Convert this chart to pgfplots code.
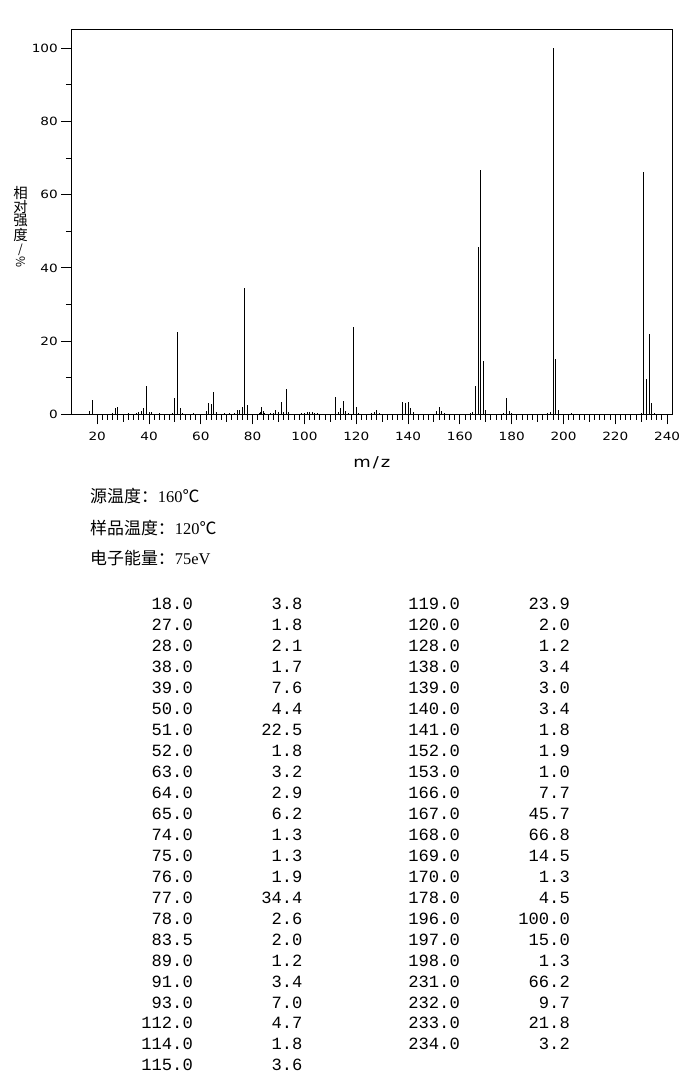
\documentclass[border=0pt]{standalone}
\usepackage{fontspec}
\usepackage{graphicx}
\usepackage{pgfplots}
\pgfplotsset{compat=1.18}
\setmainfont{Liberation Serif}
\newfontfamily\cjk{Noto Sans CJK SC}
\newfontfamily\tickfont[FakeStretch=1.2]{DejaVu Sans}
\newfontfamily\monofont{Liberation Mono}

\pgfplotstableread{
m i
17 0.9
18 3.8
26 0.4
27 1.8
28 2.1
32 0.4
35 0.4
36 0.6
37 0.8
38 1.7
39 7.6
40 0.5
41 0.5
44 0.3
49 0.4
50 4.4
51 22.5
52 1.8
53 0.3
57 0.4
62 0.9
63 3.2
64 2.9
65 6.2
66 0.7
69 0.4
71 0.4
73 0.4
74 1.3
75 1.3
76 1.9
77 34.4
78 2.6
82.5 0.4
83 0.6
83.5 2.0
84 0.8
84.5 0.4
87 0.4
88 0.4
89 1.2
90 0.7
91 3.4
92 0.7
93 7.0
94 0.5
99 0.4
100 0.4
101 0.5
102 0.5
103 0.5
104 0.3
105 0.3
112 4.7
113 0.5
114 1.8
115 3.6
116 0.8
117 0.4
119 23.9
120 2.0
121 0.4
126 0.4
127 0.6
128 1.2
129 0.4
138 3.4
139 3.0
140 3.4
141 1.8
142 0.5
151 0.8
152 1.9
153 1.0
154 0.4
164 0.4
165 0.5
166 7.7
167 45.7
168 66.8
169 14.5
170 1.3
177 0.4
178 4.5
179 0.8
180 0.4
194 0.4
195 0.6
196 100.0
197 15.0
198 1.3
203 0.4
230 0.4
231 66.2
232 9.7
233 21.8
234 3.2
235 0.4
}\spectrum

\begin{document}
\begin{tikzpicture}[x=1bp,y=1bp]
\useasboundingbox (0,0) rectangle (696,1077);
\begin{axis}[
  at={(71.3bp,662.7bp)}, anchor=south west,
  scale only axis, width=601bp, height=384.3bp,
  xmin=10, xmax=242, ymin=0, ymax=105,
  xtick={20,40,...,240}, minor x tick num=9,
  ytick={0,20,...,100}, minor y tick num=1,
  extra x ticks={30,50,...,230}, extra x tick labels={},
  extra x tick style={major tick length=7.7bp},
  tick align=outside,
  xtick pos=bottom, ytick pos=left,
  major tick length=10bp, minor tick length=5.5bp,
  tick style={black, line width=1bp},
  axis line style={black, line width=1bp},
  /pgf/number format/assume math mode=true,
  ticklabel style={font=\tickfont\fontsize{11.4}{12}\selectfont, inner sep=0pt},
  xticklabel shift=7.3bp,
  yticklabel shift=3.3bp,
]
\addplot[ycomb, black, line width=1bp, mark=none] table[x=m, y=i] {\spectrum};
\end{axis}

% axis labels
\node[font=\tickfont\fontsize{15}{16}\selectfont] at (371.8,614) {m\hspace{2bp}/\hspace{2bp}z};
\begin{scope}[every node/.style={inner sep=0pt, font=\cjk\fontsize{14.5}{14.5}\selectfont}]
  \node at (20.5,1077-192.7) {相};
  \node at (20.5,1077-206.7) {对};
  \node at (20.5,1077-220.5) {强};
  \node at (20.5,1077-234.7) {度};
  \node[font=\cjk\fontsize{12}{12}\selectfont] at (20.5,1077-249.5) {/};
  \node[rotate=-90, font=\cjk\fontsize{12}{12}\selectfont] at (20.5,1077-262.5) {\%};
\end{scope}

% info lines
\node[anchor=west, inner sep=0pt] at (90,1077-496)
  {\cjk\fontsize{17}{17}\selectfont 源温度：{\rmfamily\fontsize{16.5}{16}\selectfont 160}℃};
\node[anchor=west, inner sep=0pt] at (90,1077-528)
  {\cjk\fontsize{17}{17}\selectfont 样品温度：{\rmfamily\fontsize{16.5}{16}\selectfont 120}℃};
\node[anchor=west, inner sep=0pt] at (90,1077-558)
  {\cjk\fontsize{17}{17}\selectfont 电子能量：{\rmfamily\fontsize{16.5}{16}\selectfont 75eV}};

% peak table
\foreach \a/\b [count=\k from 0] in {18.0/3.8, 27.0/1.8, 28.0/2.1, 38.0/1.7, 39.0/7.6, 50.0/4.4, 51.0/22.5, 52.0/1.8, 63.0/3.2, 64.0/2.9, 65.0/6.2, 74.0/1.3, 75.0/1.3, 76.0/1.9, 77.0/34.4, 78.0/2.6, 83.5/2.0, 89.0/1.2, 91.0/3.4, 93.0/7.0, 112.0/4.7, 114.0/1.8, 115.0/3.6} {
  \node[anchor=base east, inner sep=0pt, font=\monofont\fontsize{17.2}{17}\selectfont] at (193,1077-610-20.95*\k) {\a};
  \node[anchor=base east, inner sep=0pt, font=\monofont\fontsize{17.2}{17}\selectfont] at (302.7,1077-610-20.95*\k) {\b};
}
\foreach \a/\b [count=\k from 0] in {119.0/23.9, 120.0/2.0, 128.0/1.2, 138.0/3.4, 139.0/3.0, 140.0/3.4, 141.0/1.8, 152.0/1.9, 153.0/1.0, 166.0/7.7, 167.0/45.7, 168.0/66.8, 169.0/14.5, 170.0/1.3, 178.0/4.5, 196.0/100.0, 197.0/15.0, 198.0/1.3, 231.0/66.2, 232.0/9.7, 233.0/21.8, 234.0/3.2} {
  \node[anchor=base east, inner sep=0pt, font=\monofont\fontsize{17.2}{17}\selectfont] at (460,1077-610-20.95*\k) {\a};
  \node[anchor=base east, inner sep=0pt, font=\monofont\fontsize{17.2}{17}\selectfont] at (570,1077-610-20.95*\k) {\b};
}
\end{tikzpicture}
\end{document}
